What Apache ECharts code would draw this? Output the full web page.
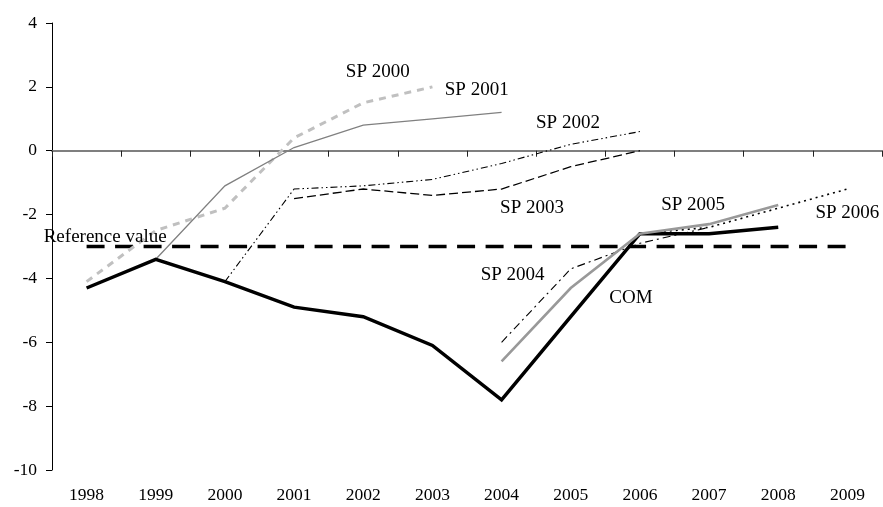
<!DOCTYPE html>
<html>
<head>
<meta charset="utf-8">
<script src="https://cdn.jsdelivr.net/npm/echarts@6/dist/echarts.min.js"></script>
<style>
html,body{margin:0;padding:0;background:#fff;}
#chart{width:883px;height:507px;}
</style>
</head>
<body>
<div id="chart"></div>
<script>
const years = ['1998','1999','2000','2001','2002','2003','2004','2005','2006','2007','2008','2009'];
const yTicks = { min: -10, max: 4, interval: 2 };

const COM    = [-4.3, -3.4, -4.1, -4.9, -5.2, -6.1, -7.8, -5.2, -2.6, -2.6, -2.4, null];
const SP2000 = [-4.1, -2.5, -1.8, 0.4, 1.5, 2.0, null, null, null, null, null, null];
const SP2001 = [null, -3.4, -1.1, 0.1, 0.8, 1.0, 1.2, null, null, null, null, null];
const SP2002 = [null, null, -4.1, -1.2, -1.1, -0.9, -0.4, 0.2, 0.6, null, null, null];
const SP2003 = [null, null, null, -1.5, -1.2, -1.4, -1.2, -0.5, 0.0, null, null, null];
const SP2004 = [null, null, null, null, null, null, -6.0, -3.7, -2.9, -2.4, null, null];
const SP2005 = [null, null, null, null, null, null, -6.6, -4.3, -2.6, -2.3, -1.7, null];
const SP2006 = [null, null, null, null, null, null, null, null, -2.6, -2.4, -1.8, -1.2];
const referenceValue = [-3, -3, -3, -3, -3, -3, -3, -3, -3, -3, -3, -3];

// annotation text and anchor in data space (fractional category index, value)
const labelTexts = ['SP 2000', 'SP 2001', 'SP 2002', 'SP 2003', 'SP 2004', 'COM', 'SP 2005', 'SP 2006', 'Reference value'];
const labelCat   = [4.21, 5.64, 6.96, 6.44, 6.16, 7.87, 8.77, 11.0, -0.62];
const labelVal   = [2.48, 1.91, 0.88, -1.79, -3.89, -4.61, -1.69, -1.94, -2.7];

const FONT = '"Liberation Serif", "Times New Roman", serif';

const chart = echarts.init(document.getElementById('chart'), null, { renderer: 'canvas' });

function lineSeries(name, data, color, width, dash, z) {
  return {
    name: name, type: 'line', data: data, xAxisIndex: 0, yAxisIndex: 0,
    symbol: 'none', connectNulls: false, silent: true, animation: false, z: z || 2,
    lineStyle: { color: color, width: width, type: dash || 'solid', cap: 'butt', join: 'miter' }
  };
}

chart.setOption({
  animation: false,
  backgroundColor: '#ffffff',
  grid: { left: 52, right: 1, top: 23, bottom: 37, containLabel: false },
  xAxis: [
    {
      type: 'category', data: years, position: 'bottom', boundaryGap: true,
      axisLine: { show: false, onZero: false },
      axisTick: { show: false },
      axisLabel: { color: '#000', fontFamily: FONT, fontSize: 17.5, margin: 16, interval: 0 },
      splitLine: { show: false }
    },
    {
      type: 'category', data: years, position: 'bottom', boundaryGap: true,
      axisLine: { show: true, onZero: true, lineStyle: { color: '#7f7f7f', width: 2 } },
      axisTick: { show: true, length: 6, inside: false, lineStyle: { color: '#222', width: 1 } },
      axisLabel: { show: false },
      splitLine: { show: false }
    }
  ],
  yAxis: {
    type: 'value', min: yTicks.min, max: yTicks.max, interval: yTicks.interval,
    axisLine: { show: true, onZero: false, lineStyle: { color: '#000', width: 1 } },
    axisTick: { show: true, length: 6, lineStyle: { color: '#000', width: 1 } },
    axisLabel: { color: '#000', fontFamily: FONT, fontSize: 17.5, margin: 15 },
    splitLine: { show: false }
  },
  series: [
    lineSeries('Reference value', referenceValue, '#000', 3.3, [18, 10.5], 1),
    lineSeries('SP 2000', SP2000, '#c0c0c0', 3, [7, 6], 2),
    lineSeries('SP 2001', SP2001, '#808080', 1.3, 'solid', 2),
    lineSeries('SP 2002', SP2002, '#000', 1.1, [7, 3, 1.5, 3, 1.5, 3], 2),
    lineSeries('SP 2003', SP2003, '#000', 1.3, [9, 4], 2),
    lineSeries('SP 2004', SP2004, '#000', 1.1, [8, 4, 2, 4], 2),
    lineSeries('SP 2006', SP2006, '#000', 1.6, [2, 4], 2),
    lineSeries('COM', COM, '#000', 3.5, 'solid', 3),
    lineSeries('SP 2005', SP2005, '#999999', 2.6, 'solid', 4)
  ]
});

function catToPixelX(c) {
  const p0 = chart.convertToPixel({ xAxisIndex: 0 }, 0);
  const p1 = chart.convertToPixel({ xAxisIndex: 0 }, 1);
  return p0 + c * (p1 - p0);
}

const graphics = labelTexts.map(function (t, i) {
  const x = catToPixelX(labelCat[i]);
  const y = chart.convertToPixel({ yAxisIndex: 0 }, labelVal[i]);
  const isRef = t === 'Reference value';
  return {
    type: 'text', x: x, y: y, z: 10, silent: true,
    style: {
      text: t, fill: '#000', font: '19px ' + FONT,
      textAlign: isRef ? 'left' : 'center', textVerticalAlign: 'middle'
    }
  };
});
chart.setOption({ graphic: graphics });
</script>
</body>
</html>
